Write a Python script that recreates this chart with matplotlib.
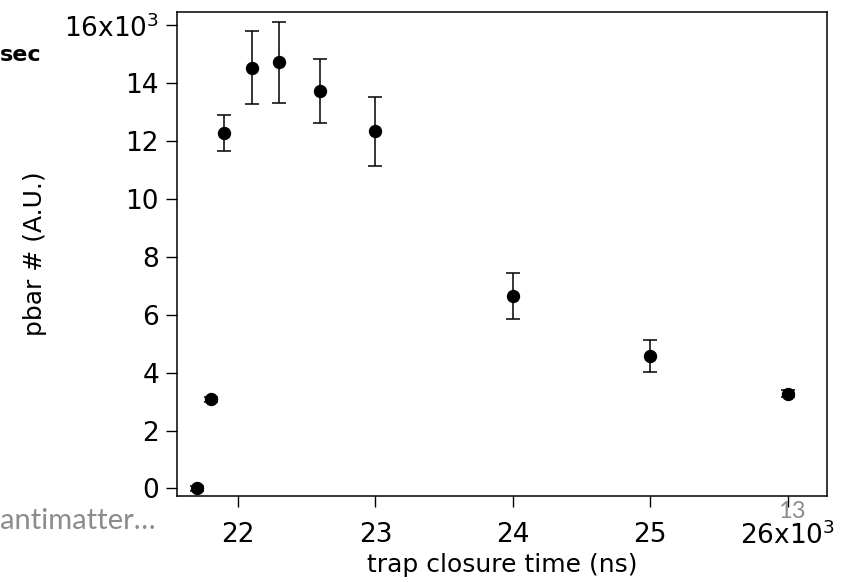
import matplotlib
matplotlib.use("Agg")
import matplotlib.pyplot as plt

# trap closure time (ns) vs antiproton number (arbitrary units)
closure_ns = [21700, 21800, 21900, 22100, 22300, 22600, 23000, 24000, 25000, 26000]
pbar_counts = [0, 3080, 12280, 14540, 14730, 13740, 12340, 6650, 4580, 3280]
pbar_err = [80, 80, 610, 1260, 1400, 1100, 1200, 800, 550, 110]

x_ticks = [22000, 23000, 24000, 25000, 26000]
x_ticklabels = ["22", "23", "24", "25", "26x10$^3$"]
y_ticks = [0, 2000, 4000, 6000, 8000, 10000, 12000, 14000, 16000]
y_ticklabels = ["0", "2", "4", "6", "8", "10", "12", "14", "16x10$^3$"]

plt.rcParams["font.family"] = ["DejaVu Sans"]
plt.rcParams["mathtext.fontset"] = "dejavusans"

fig = plt.figure(figsize=(8.46, 5.82), dpi=100)
ax = fig.add_axes([177 / 846, 1 - 496 / 582, (827 - 177) / 846, (496 - 12) / 582])

ax.errorbar(closure_ns, pbar_counts, yerr=pbar_err, fmt="o", color="black",
            markersize=8.6, elinewidth=1.1, capsize=4.7, capthick=1.1)

ax.set_xlim(21556, 26287)
ax.set_ylim(-260, 16460)
ax.set_xticks(x_ticks)
ax.set_xticklabels(x_ticklabels)
ax.set_yticks(y_ticks)
ax.set_yticklabels(y_ticklabels)
ax.tick_params(direction="out", length=8, width=1, labelsize=19)
ax.tick_params(axis="x", pad=10.5)
ax.tick_params(axis="y", pad=5)
for s in ax.spines.values():
    s.set_linewidth(1.1)

ax.set_xlabel("trap closure time (ns)", fontsize=18, labelpad=2)
ax.set_ylabel("pbar # (A.U.)", fontsize=18, labelpad=12)

# bits of the slide around the chart
fig.text(0.0, 1 - 55 / 582, "sec", fontsize=16, fontweight="bold", va="center", ha="left")
fig.text(0.0, 1 - 521 / 582, "antimatter\u2026", fontsize=21, color="#8c8c8c",
         family=["Lato", "DejaVu Sans"], va="center", ha="left")
fig.text(792 / 846, 1 - 511 / 582, "13", fontsize=17, color="#8c8c8c",
         family=["Lato", "DejaVu Sans"], va="center", ha="center")

fig.savefig("out.png", dpi=100)
